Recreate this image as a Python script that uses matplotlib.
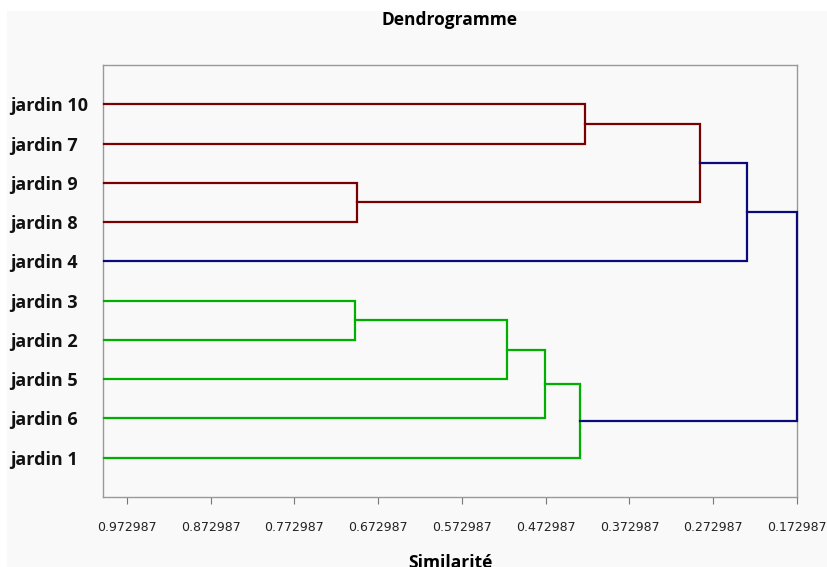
import matplotlib
matplotlib.use("Agg")
import matplotlib.pyplot as plt
from matplotlib.patches import Rectangle
import numpy as np

# leaves, top to bottom
leaves = ["jardin 10", "jardin 7", "jardin 9", "jardin 8", "jardin 4",
          "jardin 3", "jardin 2", "jardin 5", "jardin 6", "jardin 1"]
leaf_sim = 1.0

# merges: (left child, right child, similarity); clusters named c0, c1, ...
merge_a = ["jardin 10", "jardin 9", "c0", "c2", "jardin 3", "c4", "c5", "c6", "c3"]
merge_b = ["jardin 7", "jardin 8", "c1", "jardin 4", "jardin 2", "jardin 5", "jardin 6", "jardin 1", "c7"]
merge_sim = [0.426, 0.698, 0.289, 0.233, 0.701, 0.519, 0.474, 0.432, 0.172987]
merge_col = ["#780000", "#780000", "#780000", "#0a0a78", "#00b000", "#00b000", "#00b000", "#00b000", "#0a0a78"]

xticks = [0.972987, 0.872987, 0.772987, 0.672987, 0.572987,
          0.472987, 0.372987, 0.272987, 0.172987]

fig = plt.figure(figsize=(8.28, 5.67), dpi=100)
fig.patch.set_facecolor("white")
fig.patches.append(Rectangle((7 / 828, 0), 1, 1 - 11 / 567, transform=fig.transFigure,
                             facecolor="#f9f9f9", edgecolor="none", zorder=-10))

ax = fig.add_axes([103 / 828, 1 - 497 / 567, (797 - 103) / 828, (497 - 65) / 567])
ax.set_facecolor("#f9f9f9")

# node positions
ypos = {name: i + 1 for i, name in enumerate(leaves)}
xpos = {name: leaf_sim for name in leaves}

for i, (a, b, s, c) in enumerate(zip(merge_a, merge_b, merge_sim, merge_col)):
    ya, yb = ypos[a], ypos[b]
    ax.plot([xpos[a], s, s, xpos[b]], [ya, ya, yb, yb], color=c, lw=1.6,
            solid_joinstyle="miter", clip_on=False, zorder=3)
    name = "c%d" % i
    ypos[name] = (ya + yb) / 2
    xpos[name] = s

ax.set_xlim(1.0016, 0.172987)
ax.set_ylim(11, 0)

ax.set_xticks(xticks)
ax.set_xticklabels(["%.6f" % t for t in xticks], fontsize=9, color="#222222")
ax.tick_params(axis="x", direction="out", length=5, width=0.8, color="#777777", pad=12)

ax.set_yticks(range(1, len(leaves) + 1))
ax.set_yticklabels(leaves, fontsize=13, fontweight="bold", family="Open Sans",
                   ha="left", color="#111111")
ax.tick_params(axis="y", length=0, pad=67)

for sp in ax.spines.values():
    sp.set_color("#999999")
    sp.set_linewidth(1.0)

ax.set_title("Dendrogramme", fontsize=12.5, fontweight="bold", family="Open Sans", pad=29)
ax.set_xlabel("Similarité", fontsize=12.5, fontweight="bold", family="Open Sans", labelpad=15)

fig.savefig("out.png", dpi=100)
